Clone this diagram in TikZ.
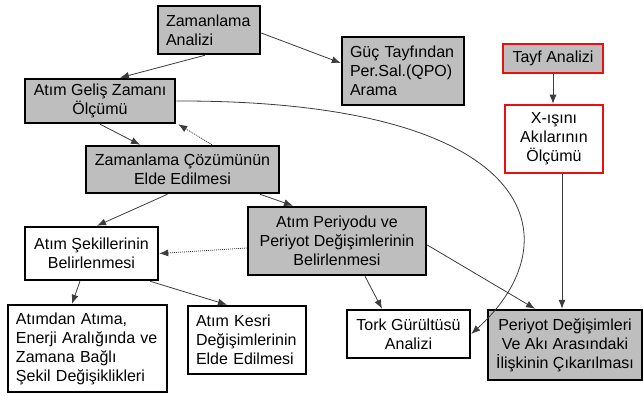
\documentclass[tikz,border=0pt]{standalone}
\usepackage{fontspec}
\setmainfont{Liberation Sans}
\usetikzlibrary{arrows.meta}
\definecolor{boxgray}{RGB}{190,190,190}
\definecolor{boxred}{RGB}{232,16,16}
\definecolor{linegray}{RGB}{60,60,60}

\begin{document}
\begin{tikzpicture}[
  x=1pt,y=-1pt,
  >={Latex[length=9pt,width=7pt]},
  font=\fontsize{16}{19}\selectfont,
  task/.style={draw,line width=2.5pt,inner xsep=8pt,inner ysep=2pt,align=center},
  shaded/.style={task,fill=boxgray},
  plain/.style={task,fill=white},
  spectral/.style={draw=boxred},
  flow/.style={->,draw=linegray,line width=0.8pt},
  hint/.style={flow,dash pattern=on 1pt off 1pt}
]
  \useasboundingbox (0,0) rectangle (643,396);

  \node[shaded,minimum height=48pt,text width=86pt,align=left] (zaman) at (209,30) {Zamanlama\\Analizi};
  \node[shaded,minimum width=150pt,minimum height=44pt] (gelis) at (100,101) {Atım Geliş Zamanı\\Ölçümü};
  \node[shaded,minimum height=68pt,text width=106pt,align=left] (guc) at (403,71) {Güç Tayfından\\Per.Sal.(QPO)\\Arama};
  \node[shaded,spectral,minimum width=100pt,minimum height=29pt] (tayf) at (553,58.5) {Tayf Analizi};
  \node[plain,spectral,minimum width=98pt,minimum height=68pt] (xisini) at (554,139) {X-ışını\\Akılarının\\Ölçümü};
  \node[shaded,minimum width=193pt,minimum height=47pt] (cozum) at (182.5,169.5) {Zamanlama Çözümünün\\Elde Edilmesi};
  \node[plain,minimum width=133pt,minimum height=53pt] (sekil) at (91.5,253.5) {Atım Şekillerinin\\Belirlenmesi};
  \node[shaded,minimum width=178pt,minimum height=68pt] (periyot) at (337,241) {Atım Periyodu ve\\Periyot Değişimlerinin\\Belirlenmesi};
  \node[plain,minimum height=87pt,text width=143pt,align=left] (atimdan) at (87.5,348.5) {Atımdan Atıma,\\Enerji Aralığında ve\\Zamana Bağlı\\Şekil Değişiklikleri};
  \node[plain,minimum height=68pt,text width=102pt,align=left] (kesri) at (247,340) {Atım Kesri\\Değişimlerinin\\Elde Edilmesi};
  \node[plain,minimum width=123pt,minimum height=48pt] (tork) at (408.5,334) {Tork Gürültüsü\\Analizi};
  \node[shaded,minimum width=150pt,minimum height=70pt] (iliski) at (565,345) {Periyot Değişimleri\\Ve Akı Arasındaki\\İlişkinin Çıkarılması};

  \draw[flow] ([xshift=-4pt]zaman.south) -- ([xshift=20pt]gelis.north);
  \draw[flow] ([yshift=-3pt]zaman.east) -- ([yshift=8pt]guc.west);
  \draw[flow] (gelis.south) -- ([xshift=-42.5pt]cozum.north);
  \draw[hint] ([xshift=29.5pt]cozum.north) -- ([xshift=2pt]gelis.south east);
  \draw[flow] (gelis.east) .. controls (540,100) and (575,240) .. (tork.east);
  \draw[flow] ([xshift=-15pt]cozum.south) -- ([xshift=5.5pt]sekil.north);
  \draw[flow] ([xshift=77.5pt]cozum.south) -- ([xshift=-44pt]periyot.north);
  \draw[hint] ([yshift=-7pt]periyot.west) -- (sekil.east);
  \draw[flow] ([xshift=-11.5pt]sekil.south) -- ([xshift=-15.5pt]atimdan.north);
  \draw[flow] ([xshift=58.5pt]sekil.south) -- ([xshift=-20pt]kesri.north);
  \draw[flow] ([xshift=28pt]periyot.south) -- ([xshift=-26.5pt]tork.north);
  \draw[flow] ([yshift=-4pt]periyot.east) -- ([xshift=-30pt]iliski.north);
  \draw[flow] (tayf.south) -- (tayf.south |- xisini.north);
  \draw[flow] ([xshift=8pt]xisini.south) -- ([xshift=8pt]xisini.south |- iliski.north);
\end{tikzpicture}
\end{document}
